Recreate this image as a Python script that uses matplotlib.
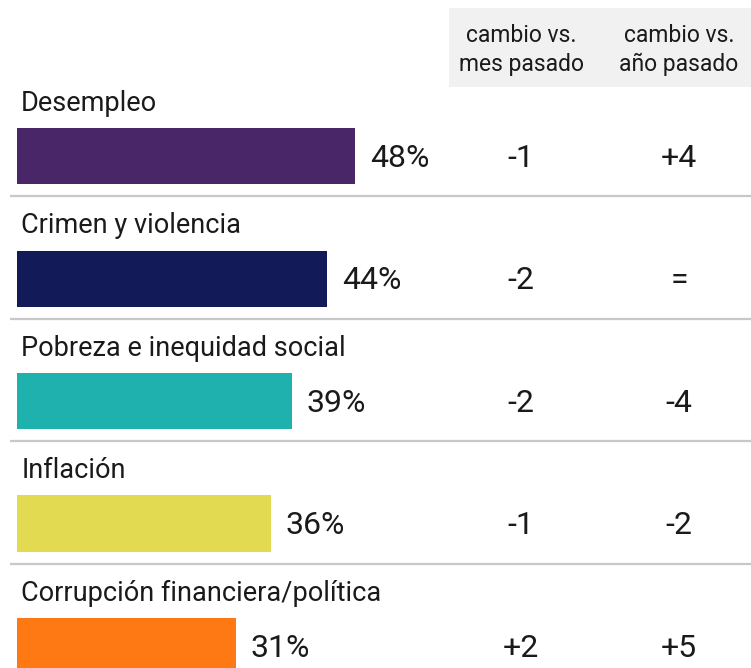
"""
Ranking of main concerns with monthly and yearly change columns.
"""
import matplotlib.pyplot as plt
import matplotlib.patches as mpatches

categories = ['Desempleo', 'Crimen y violencia', 'Pobreza e inequidad social',
              'Inflación', 'Corrupción financiera/política']
values = [48, 44, 39, 36, 31]
change_month = ['-1', '-2', '-2', '-1', '+2']
change_year = ['+4', '=', '-4', '-2', '+5']
colors = ['#482668', '#121a58', '#1fb1ad', '#e2da50', '#fe7814']
headers = ['cambio vs.\nmes pasado', 'cambio vs.\naño pasado']

W, H = 751, 668
px_per_pct = 7.05
row_px = 122.5
x0_px, y0_px = 17, 156

fig = plt.figure(figsize=(W / 100, H / 100), dpi=100)
ax = fig.add_axes([0, 0, 1, 1])
ax.set_xlim(-x0_px / px_per_pct, (W - x0_px) / px_per_pct)
ax.set_ylim((H - y0_px) / row_px, -y0_px / row_px)
ax.axis('off')

font = 'Roboto'
txt = '#1a1a1a'
col_x = [(521 - x0_px) / px_per_pct, (679 - x0_px) / px_per_pct]

# header box
box_left = (449 - x0_px) / px_per_pct
box_top = (8 - y0_px) / row_px
box_bottom = (87 - y0_px) / row_px
ax.add_patch(mpatches.Rectangle((box_left, box_top), 200, box_bottom - box_top,
                                facecolor='#f1f1f1', edgecolor='none', zorder=0))
for cx, h in zip(col_x, headers):
    ax.text(cx, (box_top + box_bottom) / 2 + 0.02, h, ha='center', va='center',
            fontsize=16.5, family=font, color=txt, linespacing=1.3)

bar_h = 56 / row_px
ys = list(range(len(categories)))
ax.barh(ys, values, height=bar_h, left=0, color=colors, zorder=2)

for i, (cat, v, m, yr) in enumerate(zip(categories, values, change_month, change_year)):
    ax.text(0.6, i - 0.43, cat, ha='left', va='center', fontsize=19.5,
            family=font, color=txt)
    ax.text(v + 2.1, i + 0.02, f'{v}%', ha='left', va='center', fontsize=23,
            family=font, color=txt)
    ax.text(col_x[0], i + 0.02, m, ha='center', va='center', fontsize=23,
            family=font, color=txt)
    ax.text(col_x[1], i + 0.02, yr, ha='center', va='center', fontsize=23,
            family=font, color=txt)
    if i < len(categories) - 1:
        ax.plot([-1, 200], [i + 0.33, i + 0.33], color='#c8c8c8', lw=1.6,
                zorder=1, solid_capstyle='butt')

plt.savefig('out.png', dpi=100)
plt.close()
